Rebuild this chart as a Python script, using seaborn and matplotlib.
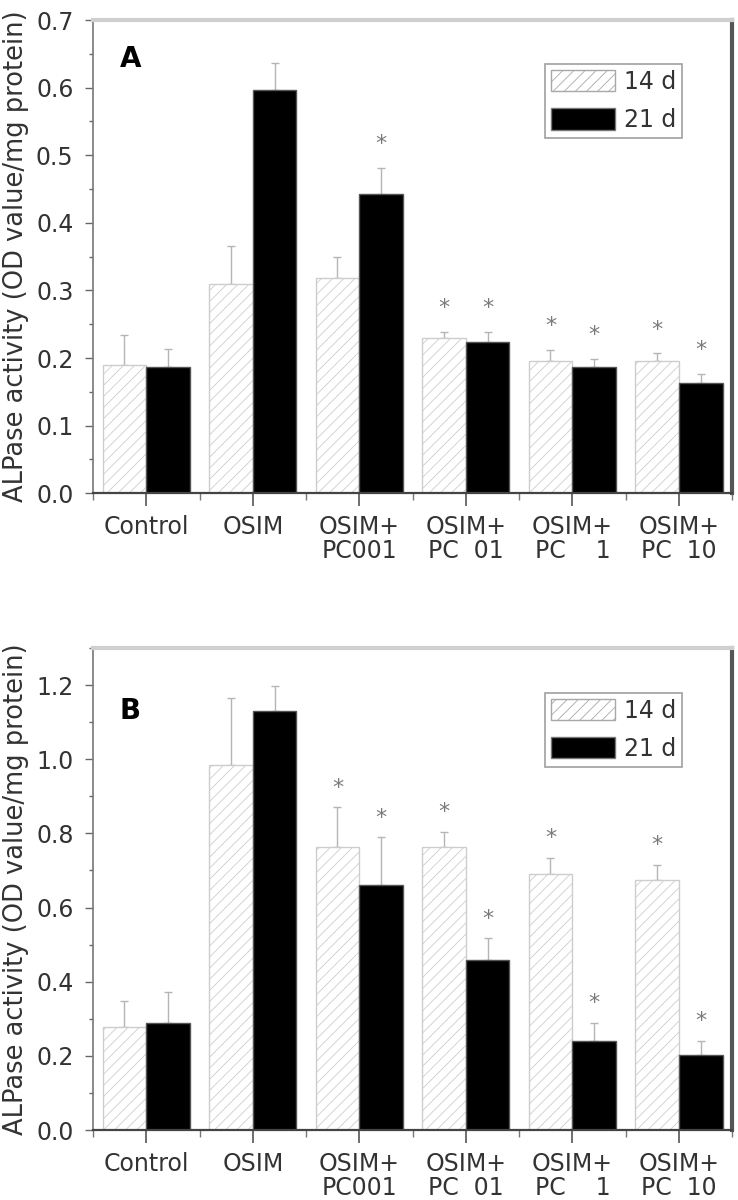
"""ALPase activity bars for 14 d / 21 d, two panels (A, B)."""

import matplotlib
import numpy as np
import pandas as pd
import seaborn as sns

matplotlib.use("Agg")
import matplotlib.pyplot as plt
from matplotlib.patches import Patch
from matplotlib.ticker import FixedLocator, MultipleLocator, FormatStrFormatter

sns.set_theme(style="ticks")
plt.rcParams["font.family"] = ["DejaVu Sans"]
plt.rcParams["hatch.linewidth"] = 0.6

groups = ["Control", "OSIM", "OSIM+\nPC001", "OSIM+\nPC  01", "OSIM+\nPC    1", "OSIM+\nPC  10"]
periods = ["14 d", "21 d"]

# panel A
a_14 = [0.189, 0.309, 0.319, 0.229, 0.195, 0.195]
a_14_err = [0.045, 0.057, 0.031, 0.010, 0.017, 0.012]
a_21 = [0.187, 0.597, 0.442, 0.223, 0.187, 0.163]
a_21_err = [0.026, 0.039, 0.039, 0.016, 0.012, 0.014]
a_14_sig = [0, 0, 0, 1, 1, 1]
a_21_sig = [0, 0, 1, 1, 1, 1]

# panel B
b_14 = [0.279, 0.984, 0.763, 0.763, 0.691, 0.674]
b_14_err = [0.068, 0.181, 0.108, 0.041, 0.043, 0.042]
b_21 = [0.289, 1.131, 0.662, 0.459, 0.239, 0.202]
b_21_err = [0.082, 0.066, 0.127, 0.059, 0.050, 0.039]
b_14_sig = [0, 0, 1, 1, 1, 1]
b_21_sig = [0, 0, 1, 1, 1, 1]

YLABEL = "ALPase activity (OD value/mg protein)"
TXT = "#333333"


def draw_panel(ax, v14, e14, s14, v21, e21, s21, ymax, major, letter, letter_y, star_off):
    df = pd.DataFrame({
        "group": groups * 2,
        "period": [periods[0]] * len(groups) + [periods[1]] * len(groups),
        "value": list(v14) + list(v21),
    })
    sns.barplot(data=df, x="group", y="value", hue="period", hue_order=periods,
                palette={"14 d": "white", "21 d": "black"}, width=0.82,
                saturation=1, errorbar=None, legend=False, ax=ax, zorder=2)

    for bar in ax.containers[0]:
        bar.set_hatch("///")
        bar.set_edgecolor("#cdcdcd")
        bar.set_linewidth(1.0)
    for bar in ax.containers[1]:
        bar.set_edgecolor("#555555")
        bar.set_linewidth(1.0)

    for cont, err, sig in zip(ax.containers, [e14, e21], [s14, s21]):
        xs = np.array([b.get_x() + b.get_width() / 2 for b in cont])
        hs = np.array([b.get_height() for b in cont])
        err = np.asarray(err)
        ax.errorbar(xs, hs, yerr=[np.zeros_like(err), err], fmt="none",
                    ecolor="#b5b5b5", elinewidth=1.0, capsize=3, capthick=1.0, zorder=1)
        for x, top, s in zip(xs, hs + err, sig):
            if s:
                ax.annotate("*", xy=(x, top), xytext=(0, star_off), textcoords="offset points",
                            ha="center", va="center", fontsize=16, color="#7a7a7a")

    ax.set_xlim(-0.5, len(groups) - 0.5)
    ax.set_ylim(0, ymax)
    ax.yaxis.set_major_locator(MultipleLocator(major))
    ax.yaxis.set_minor_locator(MultipleLocator(major / 2))
    ax.yaxis.set_major_formatter(FormatStrFormatter("%.1f"))
    ax.xaxis.set_minor_locator(FixedLocator(np.arange(-0.5, len(groups), 1.0)))

    ax.tick_params(axis="y", which="major", direction="out", length=6, width=1,
                   color="#666666", labelsize=17, labelcolor=TXT, pad=8)
    ax.tick_params(axis="y", which="minor", direction="out", length=3, width=1, color="#666666")
    ax.tick_params(axis="x", which="major", direction="out", length=9, width=1.2,
                   color="#555555", labelsize=17, labelcolor=TXT, pad=7)
    ax.tick_params(axis="x", which="minor", direction="out", length=5, width=1, color="#777777")
    for lab in ax.get_xticklabels():
        lab.set_linespacing(1.0)

    for side, col, lw in [("left", "#777777", 1.2), ("bottom", "#444444", 1.6),
                          ("top", "#cfcfcf", 3.0), ("right", "#555555", 3.0)]:
        ax.spines[side].set_visible(True)
        ax.spines[side].set_color(col)
        ax.spines[side].set_linewidth(lw)

    ax.set_xlabel("")
    ax.set_ylabel(YLABEL, fontsize=18.5, color=TXT)
    ax.yaxis.set_label_coords(-0.10, 0.5)

    ax.text(0.042, letter_y, letter, transform=ax.transAxes, fontsize=20,
            fontweight="bold", color="black", va="baseline", ha="left")

    handles = [Patch(facecolor="white", edgecolor="#a8a8a8", hatch="///"),
               Patch(facecolor="black", edgecolor="#777777")]
    leg = ax.legend(handles, periods, loc="upper right", bbox_to_anchor=(0.922, 0.907),
                    borderaxespad=0, fontsize=17, handlelength=2.7, handleheight=1.0,
                    labelspacing=0.6, handletextpad=0.4, borderpad=0.25,
                    frameon=True, fancybox=False, edgecolor="#a0a0a0", framealpha=1)
    leg.get_frame().set_linewidth(1.2)
    for t in leg.get_texts():
        t.set_color(TXT)


fig = plt.figure(figsize=(7.38, 12), dpi=100)
ax_a = fig.add_axes([0.126, 0.589, 0.866, 0.3943])
ax_b = fig.add_axes([0.126, 0.0583, 0.866, 0.4017])

draw_panel(ax_a, a_14, a_14_err, a_14_sig, a_21, a_21_err, a_21_sig,
           ymax=0.7, major=0.1, letter="A", letter_y=0.90, star_off=17)
draw_panel(ax_b, b_14, b_14_err, b_14_sig, b_21, b_21_err, b_21_sig,
           ymax=1.3, major=0.2, letter="B", letter_y=0.853, star_off=14)

fig.savefig("out.png", dpi=100)
plt.close(fig)
